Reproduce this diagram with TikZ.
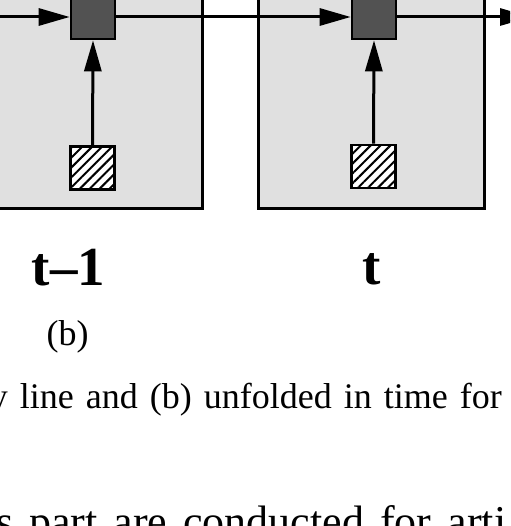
\documentclass[tikz,border=0pt]{standalone}
\usepackage{fontspec}
\setmainfont{Liberation Serif}
\usetikzlibrary{arrows.meta,patterns.meta}

\begin{document}
\begin{tikzpicture}[x=1pt,y=1pt,yscale=-1,xscale=1,
  stage/.style={draw=black,line width=3pt,fill=black!12},
  delaysq/.style={draw=black,line width=2.6pt,fill=black!68,minimum width=44pt,minimum height=44pt,inner sep=0pt},
  inputsq/.style={draw=black,line width=2.6pt,minimum width=44pt,minimum height=43pt,inner sep=0pt,preaction={fill=white},pattern={Lines[angle=45,distance=7pt,line width=2pt]}},
  link/.style={line width=3pt,-{Triangle[length=31pt,width=17pt]}},
  txt/.style={inner sep=0pt,font=\fontsize{36}{42}\selectfont},
  bodytxt/.style={inner sep=0pt,font=\fontsize{44}{50}\selectfont},
  slicelabel/.style={inner sep=0pt,font=\fontsize{55}{60}\selectfont\bfseries},
]
\clip (0,0) rectangle (510,526);
\path[fill=white] (0,0) rectangle (510,526);

% time slices
\draw[stage] (-60,-60) rectangle (202,209);
\draw[stage] (258,-60) rectangle (484,209);

% units of slice t-1
\node[delaysq] (d1) at (93,17) {};
\node[inputsq] (h1) at (92.5,168) {};
% units of slice t
\node[delaysq] (d2) at (374,17) {};
\node[inputsq] (h2) at (373.5,166.5) {};

\coordinate (in1) at (-5,17);
\coordinate (out2) at (531,17);

% connections
\draw[link] (in1) -- (d1.west);
\draw[link] (d1.east) -- (d2.west);
\draw[link] (d2.east) -- (out2);
\draw[link] (h1.north) -- (d1.south);
\draw[link] (h2.north) -- (d2.south);

% Text Node
\node[slicelabel,anchor=base] (tprev) at (68.5,285) {t--1};
\node[slicelabel,anchor=base] (tnow) at (372,284) {t};
\node[txt,anchor=base] (sub) at (67.5,345) {(b)};
\node[txt,anchor=base east] (cap) at (502,408) {\spaceskip=12pt\relax y line and (b) unfolded in time for};
\node[bodytxt,anchor=base west] (body) at (-4,536) {\spaceskip=16pt\relax s part are conducted for arti};
\end{tikzpicture}
\end{document}
